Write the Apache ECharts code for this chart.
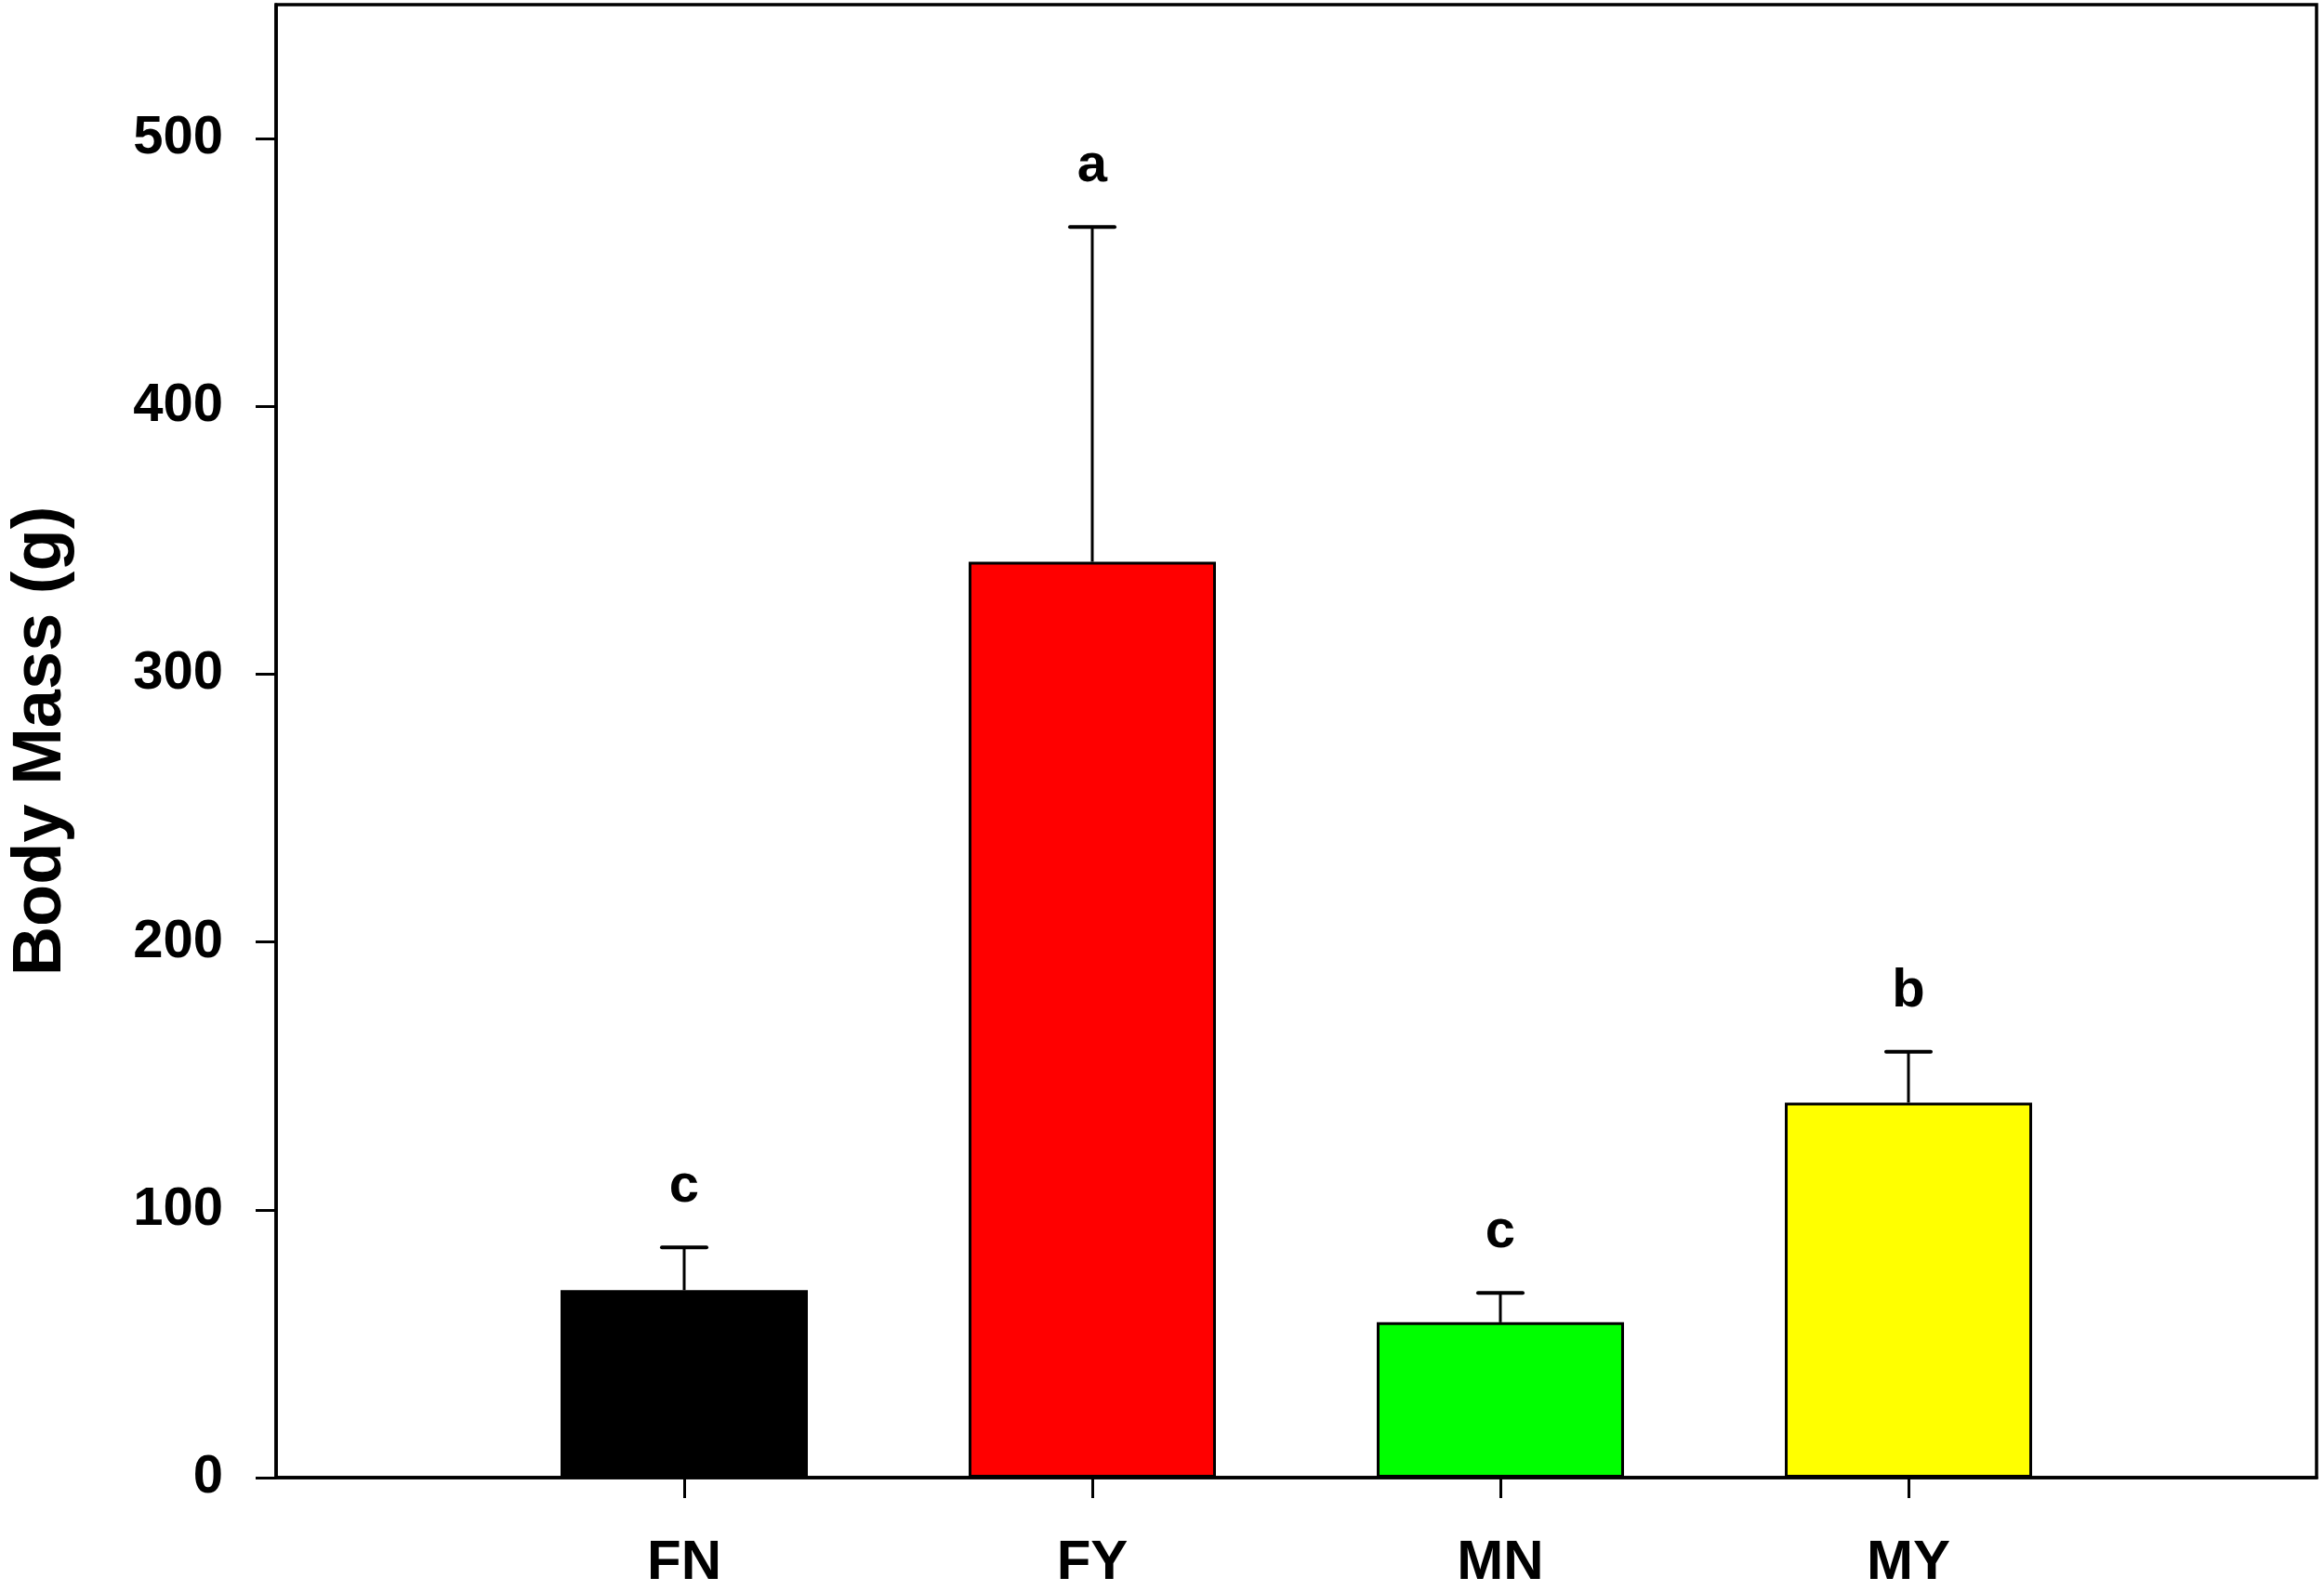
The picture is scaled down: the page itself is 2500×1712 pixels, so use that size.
<!DOCTYPE html>
<html>
<head>
<meta charset="utf-8">
<script src="https://cdn.jsdelivr.net/npm/echarts@6/dist/echarts.min.js"></script>
<style>
html,body{margin:0;padding:0;background:#fff;}
#chart{width:2500px;height:1712px;}
</style>
</head>
<body>
<div id="chart"></div>
<script>
const categories = ['FN', 'FY', 'MN', 'MY'];
const means = [70, 342, 58, 140];
const errors = [16, 125, 11, 19];
const letters = ['c', 'a', 'c', 'b'];
const barColors = ['#000000', '#ff0000', '#00ff00', '#ffff00'];
const yTicks = [0, 100, 200, 300, 400, 500];

const FONT = '"Liberation Sans", Arial, sans-serif';
const axisCats = [''].concat(categories, ['']);
const barData = ['-'].concat(means.map((v, i) => ({ value: v, itemStyle: { color: barColors[i] } })), ['-']);
const errData = means.map((m, i) => [i + 1, m, m + errors[i]]);

const chart = echarts.init(document.getElementById('chart'), null, { renderer: 'canvas' });
chart.setOption({
  backgroundColor: '#ffffff',
  animation: false,
  grid: { left: 292, right: 8, top: 5, bottom: 122, show: true, borderColor: '#000', borderWidth: 3.5, backgroundColor: 'transparent' },
  xAxis: {
    type: 'category',
    data: axisCats,
    boundaryGap: false,
    axisLine: { show: true, lineStyle: { color: '#000', width: 3.5 } },
    axisTick: { show: true, inside: false, length: 22, lineStyle: { color: '#000', width: 3 },
      interval: function (idx) { return idx >= 1 && idx <= categories.length; } },
    axisLabel: { show: true, interval: 0, margin: 62, color: '#000', fontFamily: FONT, fontWeight: 'bold', fontSize: 60 },
    splitLine: { show: false }
  },
  yAxis: {
    type: 'value',
    min: 0, max: 550, interval: 100,
    name: 'Body Mass (g)',
    nameLocation: 'middle',
    nameGap: 215,
    nameTextStyle: { color: '#000', fontFamily: FONT, fontWeight: 'bold', fontSize: 74 },
    axisLine: { show: true, lineStyle: { color: '#000', width: 3.5 } },
    axisTick: { show: true, inside: false, length: 22, lineStyle: { color: '#000', width: 3 }, customValues: yTicks },
    axisLabel: { show: true, margin: 57, color: '#000', fontFamily: FONT, fontWeight: 'bold', fontSize: 58, customValues: yTicks },
    splitLine: { show: false }
  },
  series: [
    {
      type: 'bar',
      data: barData,
      barWidth: 266,
      itemStyle: { borderColor: '#000', borderWidth: 3 },
      z: 2
    },
    {
      type: 'custom',
      data: errData,
      z: 3,
      renderItem: function (params, api) {
        const x = api.value(0);
        const base = api.coord([x, api.value(1)]);
        const top = api.coord([x, api.value(2)]);
        const half = 24;
        return {
          type: 'group',
          children: [
            { type: 'line', shape: { x1: base[0], y1: base[1], x2: top[0], y2: top[1] }, style: { stroke: '#000', lineWidth: 3 } },
            { type: 'line', shape: { x1: top[0] - half, y1: top[1], x2: top[0] + half, y2: top[1] }, style: { stroke: '#000', lineWidth: 4, lineCap: 'round' } },
            { type: 'text', x: top[0], y: top[1] - 36, style: { text: letters[params.dataIndex], fill: '#000', font: 'bold 58px ' + FONT, textAlign: 'center', textVerticalAlign: 'bottom' } }
          ]
        };
      }
    }
  ]
});
</script>
</body>
</html>
